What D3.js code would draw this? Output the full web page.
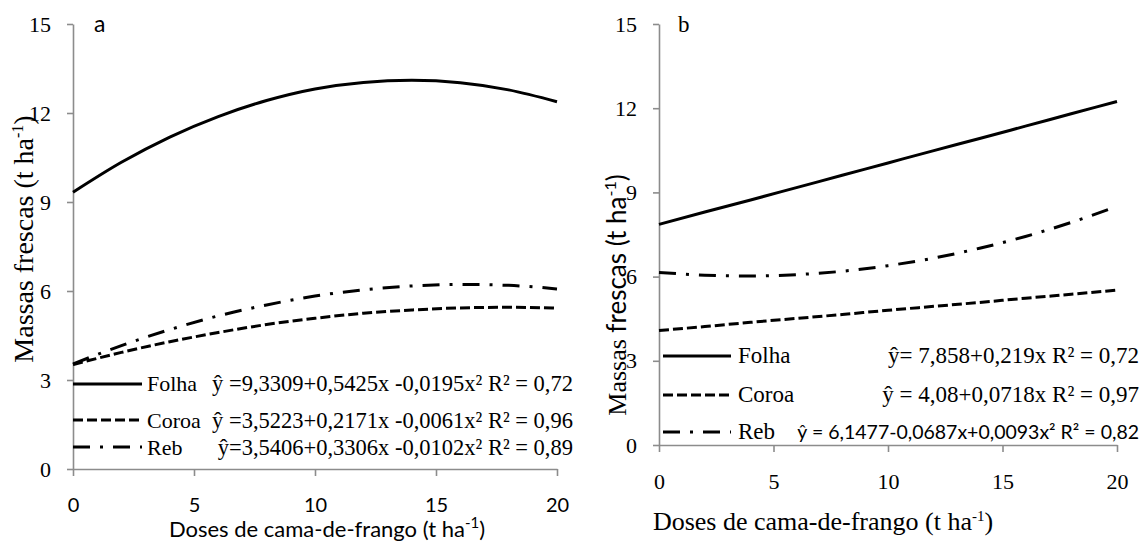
<!DOCTYPE html>
<html>
<head>
<meta charset="utf-8">
<script src="https://cdn.jsdelivr.net/npm/d3@7"></script>
<style>
  body { margin: 0; background: #fff; }
  svg { display: block; }
  .serif { font-family: 'Liberation Serif', 'Times New Roman', Times, 'DejaVu Serif', serif; }
  .sans { font-family: 'Lato', 'Open Sans', 'Liberation Sans', sans-serif; }
</style>
</head>
<body>
<svg id="chart" width="1142" height="541"></svg>
<script>
const doses = [0, 2, 4, 6, 8, 10, 12, 14, 16, 18, 20];

// panel a
const folhaA = [9.33, 10.34, 11.19, 11.88, 12.42, 12.81, 13.03, 13.10, 13.02, 12.78, 12.38];
const coroaA = [3.52, 3.93, 4.29, 4.60, 4.87, 5.08, 5.25, 5.36, 5.43, 5.45, 5.42];
const rebA = [3.54, 4.16, 4.70, 5.16, 5.53, 5.83, 6.04, 6.17, 6.22, 6.19, 6.07];

// panel b
const folhaB = [7.86, 8.30, 8.73, 9.17, 9.61, 10.05, 10.49, 10.92, 11.36, 11.80, 12.24];
const coroaB = [4.08, 4.22, 4.37, 4.51, 4.65, 4.80, 4.94, 5.08, 5.23, 5.37, 5.52];
const rebB = [6.15, 6.05, 6.02, 6.07, 6.19, 6.39, 6.66, 7.01, 7.43, 7.93, 8.50];

const seriesNames = ['Folha', 'Coroa', 'Reb'];
const eqA = [
    'ŷ =9,3309+0,5425x -0,0195x² R² = 0,72',
    'ŷ =3,5223+0,2171x -0,0061x² R² = 0,96',
    'ŷ=3,5406+0,3306x -0,0102x² R² = 0,89'
];
const eqB = [
    'ŷ= 7,858+0,219x R² = 0,72',
    'ŷ = 4,08+0,0718x R² = 0,97',
    'ŷ = 6,1477-0,0687x+0,0093x² R² = 0,82'
];
const xTicks = [0, 5, 10, 15, 20];
const yTicks = [0, 3, 6, 9, 12, 15];

const dashes = [null, '10,4', '17,10,3,10'];
const axisColor = '#8c8c8c';

const svg = d3.select('#chart');

function drawPanel(p) {
    const x = d3.scaleLinear().domain([0, 20]).range([p.x0, p.x1]);
    const y = d3.scaleLinear().domain([0, 15]).range([p.yBot, p.yTop]);
    const g = svg.append('g');

    // y axis
    const gy = g.append('g')
        .attr('transform', `translate(${p.x0},0)`)
        .call(d3.axisLeft(y).tickValues(yTicks).tickSize(6).tickPadding(16).tickSizeOuter(0))
        .attr('font-family', null).attr('font-size', null);
    // x axis
    const gx = g.append('g')
        .attr('transform', `translate(0,${p.yBot})`)
        .call(d3.axisBottom(x).tickValues(xTicks).tickSize(7).tickSizeOuter(0))
        .attr('font-family', null).attr('font-size', null);

    [gx, gy].forEach(a => {
        a.select('.domain').attr('stroke', axisColor).attr('stroke-width', 1.6);
        a.selectAll('.tick line').attr('stroke', axisColor).attr('stroke-width', 1.6);
        a.selectAll('.tick text').attr('fill', '#000');
    });
    gy.selectAll('.tick text').attr('class', 'serif').style('font-size', '22px');
    gx.selectAll('.tick text')
        .attr('class', p.xTickFont).style('font-size', p.xTickSize)
        .attr('y', p.xLabelDy).attr('dy', null);

    // curves
    const line = d3.line()
        .x((d, i) => x(doses[i]))
        .y(d => y(d))
        .curve(d3.curveMonotoneX);
    p.series.forEach((s, i) => {
        g.append('path')
            .datum(s)
            .attr('d', line)
            .attr('fill', 'none')
            .attr('stroke', '#000')
            .attr('stroke-width', 3)
            .attr('stroke-dasharray', dashes[i]);
    });

    // legend
    seriesNames.forEach((name, i) => {
        g.append('line')
            .attr('x1', p.legX[0]).attr('x2', p.legX[1])
            .attr('y1', p.legLineY[i]).attr('y2', p.legLineY[i])
            .attr('stroke', '#000').attr('stroke-width', 3)
            .attr('stroke-dasharray', dashes[i]);
        g.append('text')
            .attr('class', 'serif')
            .attr('x', p.legTextX).attr('y', p.legTextY[i])
            .style('font-size', p.legSize)
            .text(name);
        g.append('text')
            .attr('class', p.eqFonts[i])
            .attr('x', p.eqEnd).attr('y', p.legTextY[i])
            .attr('text-anchor', 'end')
            .style('font-size', p.eqSizes[i])
            .text(p.eqs[i]);
    });

    // panel letter
    g.append('text')
        .attr('class', p.letterFont)
        .attr('x', p.letterX).attr('y', 32)
        .style('font-size', '23px')
        .text(p.letter);

    // x title
    const xt = g.append('text')
        .attr('class', p.xTitleFont)
        .attr('x', p.xTitleX).attr('y', p.xTitleY)
        .attr('text-anchor', 'middle')
        .style('font-size', p.xTitleSize);
    xt.append('tspan').text('Doses  de cama-de-frango (t ha');
    xt.append('tspan').attr('dy', -9).style('font-size', '15px').text('-1');
    xt.append('tspan').attr('dy', 9).text(')');

    // y title
    const yt = g.append('text')
        .attr('class', 'serif')
        .attr('transform', `translate(${p.yTitleX},${p.yTitleY}) rotate(-90)`)
        .attr('text-anchor', 'middle')
        .style('font-size', p.yTitleSize);
    yt.append('tspan').text(p.yTitleParts[0]);
    yt.append('tspan').attr('class', p.yTitleFont2).text(p.yTitleParts[1]);
    yt.append('tspan').attr('class', p.yTitleFont2).attr('dy', -10).style('font-size', '16px').text('-1');
    yt.append('tspan').attr('class', p.yTitleFont2).attr('dy', 10).text(')');
}

drawPanel({
    x0: 73, x1: 557, yTop: 24, yBot: 469,
    series: [folhaA, coroaA, rebA],
    xTickFont: 'sans', xTickSize: '20px', xLabelDy: 43,
    legX: [73, 142], legTextX: 147, legSize: '22px',
    legLineY: [384, 420, 447], legTextY: [391, 428, 455],
    eqEnd: 573, eqs: eqA,
    eqFonts: ['serif', 'serif', 'serif'], eqSizes: ['22.5px', '22.5px', '22.5px'],
    letter: 'a', letterX: 94, letterFont: 'sans',
    xTitleX: 327, xTitleY: 537, xTitleFont: 'sans', xTitleSize: '22px',
    yTitleX: 33, yTitleY: 239, yTitleSize: '28px',
    yTitleParts: ['Massas frescas   ', '(t ha'], yTitleFont2: 'serif'
});

drawPanel({
    x0: 659, x1: 1117, yTop: 24, yBot: 445,
    series: [folhaB, coroaB, rebB],
    xTickFont: 'serif', xTickSize: '22px', xLabelDy: 44,
    legX: [663, 731], legTextX: 738, legSize: '23px',
    legLineY: [356, 395, 432], legTextY: [363, 402, 439],
    eqEnd: 1139, eqs: eqB,
    eqFonts: ['serif', 'serif', 'sans'], eqSizes: ['23px', '23px', '19.5px'],
    letter: 'b', letterX: 678, letterFont: 'serif',
    xTitleX: 823, xTitleY: 530, xTitleFont: 'serif', xTitleSize: '26px',
    yTitleX: 626, yTitleY: 295, yTitleSize: '26px',
    yTitleParts: ['Massas ', 'frescas   (t ha'], yTitleFont2: 'sans'
});
</script>
</body>
</html>
